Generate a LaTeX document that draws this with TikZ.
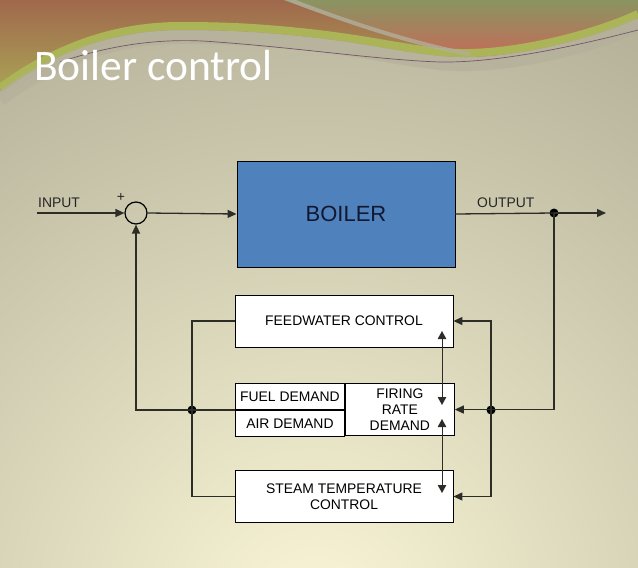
\documentclass[tikz,border=0pt]{standalone}
\usepackage{fontspec}
\setmainfont{Liberation Sans}
\newfontfamily\titlefont{Carlito}
\usetikzlibrary{arrows.meta,positioning}

\definecolor{slategray}{RGB}{152,148,128}
\definecolor{creamy}{RGB}{250,246,214}
\definecolor{boilerblue}{RGB}{79,129,189}
\definecolor{boilerink}{RGB}{18,24,48}
\definecolor{wire}{RGB}{45,45,40}
\definecolor{rust}{RGB}{160,104,76}
\definecolor{olive}{RGB}{138,148,98}
\definecolor{salmon}{RGB}{196,108,88}
\definecolor{lime}{RGB}{172,180,88}
\definecolor{streak}{RGB}{178,174,154}
\definecolor{thread}{RGB}{118,84,104}

\tikzset{
  block/.style = {draw=black, fill=white, line width=0.9pt, inner sep=0pt,
    minimum width=\boxw pt, minimum height=52pt, align=center,
    font=\fontsize{13.9}{16}\selectfont},
  halfblock/.style = {block, minimum width=0.5*\boxw pt, minimum height=26pt},
  signal/.style = {draw=wire, line width=1.3pt},
  arrowto/.style = {-{Triangle[length=9pt,width=8pt]}},
  bothways/.style = {{Triangle[length=8pt,width=8.5pt]}-{Triangle[length=8pt,width=8.5pt]}},
  junction/.style = {circle, fill=black, inner sep=0pt, minimum size=9pt},
  tag/.style = {font=\fontsize{13.9}{16}\selectfont, text=black!85, inner sep=0pt}
}

\begin{document}
\begin{tikzpicture}[x=1pt,y=-1pt]
  \pgfmathsetmacro{\boxw}{218}
  \useasboundingbox (0,0) rectangle (638,568);
  %
  % slide background
  \begin{scope}
    \clip (0,0) rectangle (638,568);
    \fill[slategray] (0,0) rectangle (638,568);
    \shade[inner color=creamy, outer color=slategray] (315,620) circle (960);
    \shade[top color=rust, bottom color=lime!80!rust] (0,0) -- (638,0) -- (638,18)
      .. controls (590,40) and (520,56) .. (470,57)
      .. controls (420,58) and (380,44) .. (300,36)
      .. controls (260,32) and (230,30) .. (180,30)
      .. controls (110,30) and (50,55) .. (0,92) -- cycle;
    \shade[top color=olive, bottom color=salmon] (283,0)
      .. controls (340,20) and (420,48) .. (470,57)
      .. controls (520,56) and (590,40) .. (638,18) -- (638,0) -- cycle;
    \draw[lime, line width=8pt, yshift=4pt] (0,92)
      .. controls (50,55) and (110,30) .. (180,30)
      .. controls (230,30) and (260,32) .. (300,36)
      .. controls (380,44) and (420,58) .. (470,57)
      .. controls (520,56) and (590,40) .. (638,18);
    \draw[streak, line width=14pt, opacity=0.6, yshift=-7pt] (0,92)
      .. controls (50,55) and (110,30) .. (180,30)
      .. controls (230,30) and (260,32) .. (300,36)
      .. controls (380,44) and (420,58) .. (470,57)
      .. controls (520,56) and (590,40) .. (638,18);
    \draw[streak, line width=4pt, opacity=0.8] (283,-3) .. controls (340,20) and (420,46) .. (470,54);
    \draw[thread, line width=0.7pt] (60,62) .. controls (120,42) and (170,38) .. (217,42)
      .. controls (300,48) and (380,60) .. (440,62)
      .. controls (500,63) and (580,45) .. (638,30);
  \end{scope}
  %
  \node[anchor=base west, text=white, inner sep=0pt,
    font=\titlefont\fontsize{43.5}{50}\selectfont] (title) at (34,80) {Boiler control};
  %
  % blocks
  \node[block, fill=boilerblue, minimum height=106pt, text=boilerink,
    font=\fontsize{22}{26}\selectfont] (boiler) at (346,214) {BOILER};
  \node[circle, draw=black, line width=1.2pt, minimum size=22pt, inner sep=0pt] (sum) at (136,213) {};
  \node[block] (feed) at (344,321) {FEEDWATER CONTROL};
  \node[halfblock, anchor=south west] (fuel) at (235,410) {FUEL DEMAND};
  \node[halfblock, below=0pt of fuel] (air) {AIR DEMAND};
  \node[block, minimum width=0.5*\boxw pt, anchor=north west] (firing) at (fuel.north east) {FIRING\\RATE\\DEMAND};
  \node[block] (steam) at (344,496.5) {STEAM TEMPERATURE\\CONTROL};
  %
  % labels and junctions
  \node[tag, anchor=base west] (input) at (38,207) {INPUT};
  \node[tag, anchor=base west] (output) at (477,207) {OUTPUT};
  \node[tag] (plus) at (121,197) {+};
  \node[junction] (split) at (554,213) {};
  \node[junction] (ljoin) at (192,410) {};
  \node[junction] (rjoin) at (491,410) {};
  \coordinate (start) at (37,213);
  \coordinate (finish) at (606,213);
  \coordinate (fwlink) at (442,331);
  \coordinate (frtop) at (442,405);
  \coordinate (frbot) at (442,419);
  \coordinate (stlink) at (442,493);
  %
  % signal paths
  \draw[signal, arrowto] (start) -- (sum.west);
  \draw[signal, arrowto] (sum.east) -- (boiler.west);
  \draw[signal] (boiler.east) -- (split.center);
  \draw[signal, arrowto] (split.center) -- (finish);
  \draw[signal, arrowto] (split.center) |- (firing.east);
  \foreach \blk in {feed,steam} {
    \draw[signal, arrowto] (rjoin.center) |- (\blk.east);
  }
  \draw[signal] (feed.west) -| (ljoin.center) |- (steam.west);
  \draw[signal, arrowto] (fuel.south west) -| (sum.south);
  \draw[signal, line width=1pt, bothways] (fwlink) -- (frtop);
  \draw[signal, line width=1pt, bothways] (frbot) -- (stlink);
\end{tikzpicture}
\end{document}
